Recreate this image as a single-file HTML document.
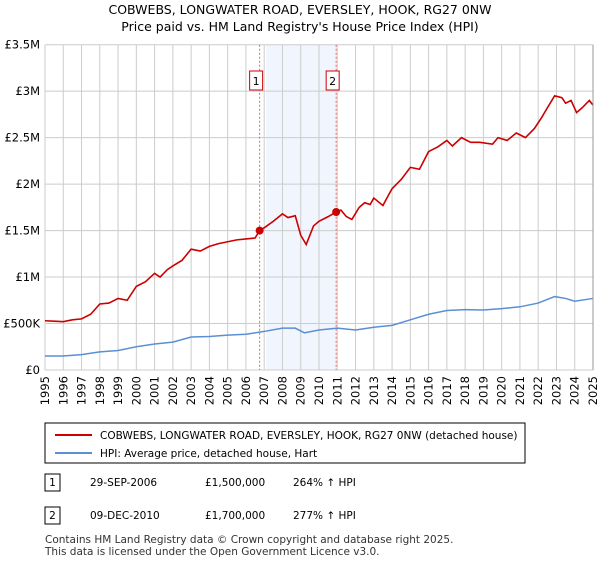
<!DOCTYPE html>
<html><head><meta charset="utf-8"><style>
body{margin:0;background:#fff;font-family:"Liberation Sans","DejaVu Sans",sans-serif;}
svg text{font-family:"DejaVu Sans","Liberation Sans",sans-serif;}
</style></head><body>
<svg id="c" width="600" height="560" xmlns="http://www.w3.org/2000/svg">
<text x="300" y="14" text-anchor="middle" font-size="12.5" fill="#000">COBWEBS, LONGWATER ROAD, EVERSLEY, HOOK, RG27 0NW</text>
<text x="300" y="31" text-anchor="middle" font-size="12.5" fill="#000">Price paid vs. HM Land Registry's House Price Index (HPI)</text>
<g id="grid"></g><g id="marks"></g>
<rect x="45" y="423" width="480" height="40" fill="#fff" stroke="#000" stroke-width="1"/>
<line x1="55" y1="435" x2="92" y2="435" stroke="#cc0000" stroke-width="2"/>
<text x="100" y="439" font-size="10.5">COBWEBS, LONGWATER ROAD, EVERSLEY, HOOK, RG27 0NW (detached house)</text>
<line x1="55" y1="453" x2="92" y2="453" stroke="#5b8fd4" stroke-width="2"/>
<text x="100" y="457" font-size="10.5">HPI: Average price, detached house, Hart</text>
<rect x="45" y="474" width="15" height="17" fill="#fff" stroke="#000"/>
<text x="52.5" y="486" text-anchor="middle" font-size="10.5">1</text>
<text x="90" y="486" font-size="10.5">29-SEP-2006</text>
<text x="205" y="486" font-size="10.5">£1,500,000</text>
<text x="293" y="486" font-size="10.5">264% ↑ HPI</text>
<rect x="45" y="507" width="15" height="17" fill="#fff" stroke="#000"/>
<text x="52.5" y="519" text-anchor="middle" font-size="10.5">2</text>
<text x="90" y="519" font-size="10.5">09-DEC-2010</text>
<text x="205" y="519" font-size="10.5">£1,700,000</text>
<text x="293" y="519" font-size="10.5">277% ↑ HPI</text>
<text x="45" y="543" font-size="10.5" fill="#333">Contains HM Land Registry data © Crown copyright and database right 2025.</text>
<text x="45" y="555" font-size="10.5" fill="#333">This data is licensed under the Open Government Licence v3.0.</text>
</svg>
<script>
const yTicks=[0,500000,1000000,1500000,2000000,2500000,3000000,3500000];
const yLabels=["£0","£500K","£1M","£1.5M","£2M","£2.5M","£3M","£3.5M"];
const xYears=[1995,1996,1997,1998,1999,2000,2001,2002,2003,2004,2005,2006,2007,2008,2009,2010,2011,2012,2013,2014,2015,2016,2017,2018,2019,2020,2021,2022,2023,2024,2025];
const redT=[1995,1995.5,1996,1996.5,1997,1997.5,1998,1998.5,1999,1999.5,2000,2000.5,2001,2001.3,2001.7,2002,2002.5,2003,2003.5,2004,2004.5,2005,2005.5,2006,2006.5,2006.75,2007,2007.5,2008,2008.3,2008.7,2009,2009.3,2009.7,2010,2010.5,2010.94,2011.2,2011.5,2011.8,2012.2,2012.5,2012.8,2013,2013.5,2013.8,2014,2014.5,2015,2015.5,2016,2016.5,2017,2017.3,2017.8,2018.3,2018.8,2019.5,2019.8,2020.3,2020.8,2021.3,2021.8,2022.2,2022.5,2022.9,2023.3,2023.5,2023.8,2024.1,2024.4,2024.8,2025];
const redV=[530000,525000,520000,540000,550000,600000,710000,720000,770000,750000,900000,950000,1040000,1000000,1080000,1120000,1180000,1300000,1280000,1330000,1360000,1380000,1400000,1410000,1420000,1500000,1530000,1600000,1680000,1640000,1660000,1450000,1350000,1550000,1600000,1650000,1700000,1720000,1650000,1620000,1750000,1800000,1780000,1850000,1770000,1880000,1950000,2050000,2180000,2160000,2350000,2400000,2470000,2410000,2500000,2450000,2450000,2430000,2500000,2470000,2550000,2500000,2600000,2720000,2820000,2950000,2930000,2870000,2900000,2770000,2820000,2900000,2850000];
const blueT=[1995,1996,1997,1998,1999,2000,2001,2002,2003,2004,2005,2006,2007,2008,2008.7,2009.2,2010,2011,2012,2013,2014,2015,2016,2017,2018,2019,2020,2021,2022,2022.9,2023.5,2024,2025];
const blueV=[150000,150000,165000,195000,210000,250000,280000,300000,355000,360000,375000,385000,415000,450000,450000,400000,430000,450000,430000,460000,480000,540000,600000,640000,650000,645000,660000,680000,720000,790000,770000,740000,770000];
const sales=[[2006.75,1500000,"1"],[2010.94,1700000,"2"]];
const X0=45,X1=593,Y0=370,Y1=44.7;
const sx=t=>X0+(t-1995)/30*(X1-X0);
const sy=v=>Y0-v/3500000*(Y0-Y1);
const NS="http://www.w3.org/2000/svg";
function mk(p,tag,at){const e=document.createElementNS(NS,tag);for(const k in at)e.setAttribute(k,at[k]);p.appendChild(e);return e;}
const g=document.getElementById('grid'),m=document.getElementById('marks');
const sh=mk(g,'rect',{x:sx(2007.1),y:Y1,width:sx(2010.94)-sx(2007.1),height:Y0-Y1,fill:'#eef3fc',opacity:0.8});


yTicks.forEach((v,i)=>{
 const l=mk(g,'line',{x1:X0,x2:X1,y1:sy(v),y2:sy(v),stroke:'#ccc','stroke-width':1});
 
 
 const t=mk(g,'text',{x:40,y:sy(v)+4,'text-anchor':'end','font-size':11.5});
 
 
 t.textContent=yLabels[i];
});
xYears.forEach(y=>{
 const l=mk(g,'line',{x1:sx(y),x2:sx(y),y1:Y1,y2:Y0,stroke:'#ccc','stroke-width':1});
 
 
 const t=mk(g,'text',{x:0,y:0,'text-anchor':'end','font-size':11.5,transform:`translate(${sx(y)+4},${Y0+6}) rotate(-90)`});
 
 
 t.textContent=y;
});
sales.forEach(s=>{
 const l=mk(m,'line',{x1:sx(s[0]),x2:sx(s[0]),y1:Y1,y2:Y0,stroke:'#f06060','stroke-width':1,'stroke-dasharray':'2,2'});
 
 
 const b=mk(m,'rect',{x:sx(s[0])-10,y:71,width:13,height:19,fill:'#fff',stroke:'#cc0000'});
 
 
 const t=mk(m,'text',{x:sx(s[0])-3.5,y:85,'text-anchor':'middle','font-size':11});
 
 
 t.textContent=s[2];
});
const bp=mk(m,'polyline',{points:blueT.map((t,i)=>sx(t)+','+sy(blueV[i])).join(' '),fill:'none',stroke:'#5b8fd4','stroke-width':1.5});


const rp=mk(m,'polyline',{points:redT.map((t,i)=>sx(t)+','+sy(redV[i])).join(' '),fill:'none',stroke:'#cc0000','stroke-width':1.6});


sales.forEach(s=>{
 const d=mk(m,'circle',{cx:sx(s[0]),cy:sy(s[1]),r:4,fill:'#cc0000'});
 
 
});
const ax=mk(m,'line',{x1:X1,x2:X1,y1:Y1,y2:Y0,stroke:'#999','stroke-width':1});


</script>
</body></html>
